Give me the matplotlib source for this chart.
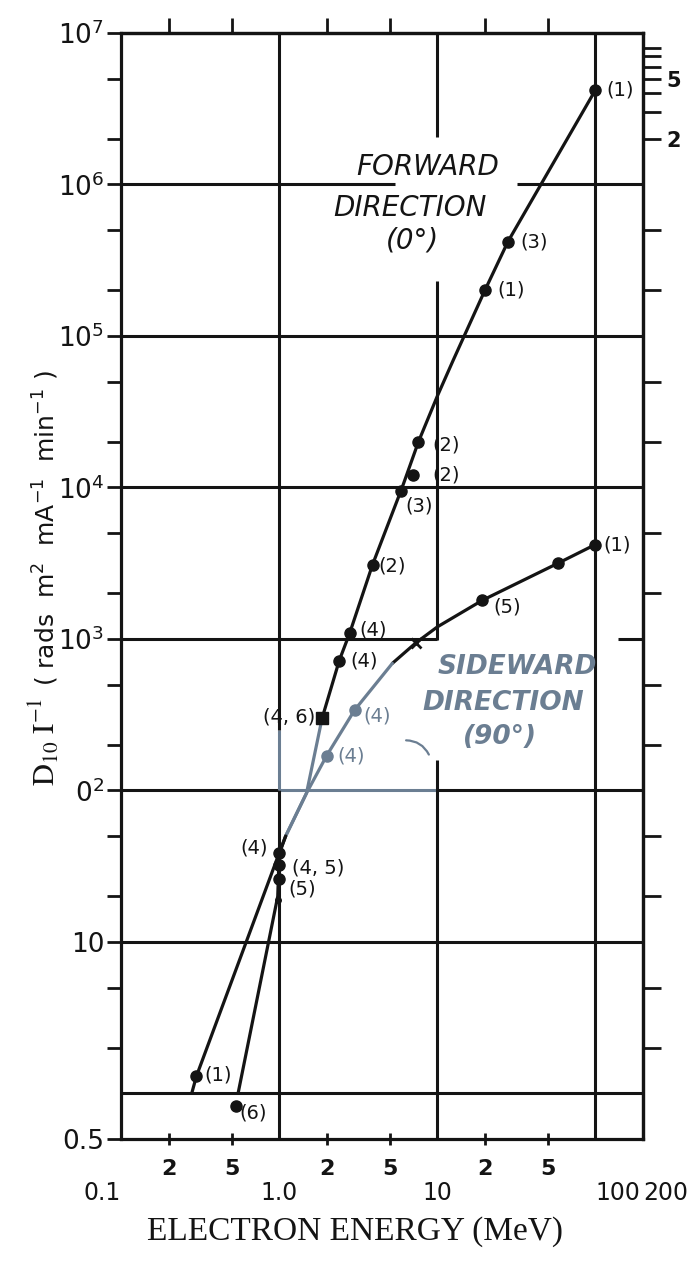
import matplotlib
matplotlib.use("Agg")
import matplotlib.pyplot as plt
from matplotlib.ticker import FixedLocator, FixedFormatter, NullFormatter

# ---------------- data ----------------
# Forward direction (0 deg): data points
fwd_E = [100, 28, 20, 7.6, 7.0, 5.9, 3.9, 2.8, 2.4, 1.87, 1.0, 1.0, 0.98, 0.53]
fwd_D = [4.2e6, 4.2e5, 2.0e5, 2.0e4, 1.2e4, 9.5e3, 3.1e3, 1.1e3, 720, 300, 32, 26, 19, 0.83]
fwd_lab = ['(1)', '(3)', '(1)', '(2)', '(2)', '(3)', '(2)', '(4)', '(4)', '(4, 6)', '(4, 5)', '(5)', '', '(6)']

# Forward direction: drawn curve
fwd_curve_E = [100, 28, 20, 12.6, 10, 7.6, 6.0, 3.9, 2.8, 2.4, 1.87, 1.49, 1.1, 1.0, 0.98, 0.55]
fwd_curve_D = [4.2e6, 4.2e5, 2.0e5, 6.9e4, 4.0e4, 2.0e4, 1.0e4, 3.1e3, 1.1e3, 720, 300, 96, 50, 38, 20, 1.0]

# Sideward direction (90 deg): data points
side_E = [100, 58, 19.3, 7.3, 3.0, 2.0, 1.0, 0.30]
side_D = [4.2e3, 3.16e3, 1.8e3, 940, 339, 170, 38.5, 1.3]
side_lab = ['(1)', '', '(5)', '', '(4)', '(4)', '(4)', '(1)']

# Sideward direction: drawn curve
side_curve_E = [100, 58, 19.3, 10, 7.3, 5.2, 3.0, 2.0, 1.49, 1.1, 1.0, 0.30, 0.28]
side_curve_D = [4.2e3, 3.16e3, 1.8e3, 1.2e3, 940, 690, 339, 170, 96, 50, 38.5, 1.3, 1.0]

# axis ticks / labels
y_major = [0.5, 10, 1e2, 1e3, 1e4, 1e5, 1e6, 1e7]
y_major_lab = ['0.5', '10', r'0$^{2}$', r'10$^{3}$', r'10$^{4}$', r'10$^{5}$', r'10$^{6}$', r'10$^{7}$']
y_minor = [2, 5, 20, 50, 200, 500, 2e3, 5e3, 2e4, 5e4, 2e5, 5e5, 2e6, 5e6]
x_major = [0.1, 1.0, 10, 100, 200]
x_major_lab = ['0.1', '1.0', '10', '100', '200']
x_minor = [0.2, 0.5, 2, 5, 20, 50]
x_minor_lab = ['2', '5', '2', '5', '2', '5']
right_minor = [2, 5, 20, 50, 200, 500, 2e3, 5e3, 2e4, 5e4, 2e5, 5e5, 2e6, 3e6, 4e6, 6e6, 7e6, 8e6]
right_major = [2e6, 5e6]
right_major_lab = ['2', '5']

# ---------------- style ----------------
INK = '#141414'
GREY = '#6b7e92'
LW = 2.3

fig = plt.figure(figsize=(7, 12.62), dpi=100)
ax = fig.add_axes([121 / 700, 1 - 1139 / 1262, (643 - 121) / 700, (1139 - 33) / 1262])
ax.set_xscale('log')
ax.set_yscale('log')
ax.set_xlim(0.1, 200)
ax.set_ylim(0.5, 1e7)

for s in ax.spines.values():
    s.set_linewidth(LW)
    s.set_color(INK)

# grid segments (value, start, end, colour)
h_grid = [(1, 0.1, 200, INK), (10, 0.1, 200, INK),
          (1e2, 0.1, 1.0, INK), (1e2, 1.0, 10, GREY), (1e2, 10, 200, INK),
          (1e3, 0.1, 10, INK), (1e3, 138, 200, INK),
          (1e4, 0.1, 200, INK), (1e5, 0.1, 200, INK),
          (1e6, 0.1, 5.4, INK), (1e6, 32, 200, INK)]
v_grid = [(1.0, 0.5, 100, INK), (1.0, 100, 250, GREY), (1.0, 250, 1e7, INK),
          (10, 0.5, 158, INK), (10, 980, 2.3e5, INK), (10, 2.05e6, 1e7, INK),
          (100, 0.5, 1e7, INK)]
for y, x0, x1, c in h_grid:
    ax.hlines(y, x0, x1, colors=c, lw=2.2, zorder=1)
for x, y0, y1, c in v_grid:
    ax.vlines(x, y0, y1, colors=c, lw=2.2, zorder=1)

# curves with colour segments (index ranges)
fwd_segments = [(0, 10, INK), (10, 12, GREY), (12, len(fwd_curve_E) - 1, INK)]
side_segments = [(0, 5, INK), (5, 9, GREY), (9, len(side_curve_E) - 1, INK)]
for i0, i1, c in fwd_segments:
    ax.plot(fwd_curve_E[i0:i1 + 1], fwd_curve_D[i0:i1 + 1], color=c, lw=LW, zorder=3,
            solid_capstyle='round', solid_joinstyle='round')
for i0, i1, c in side_segments:
    ax.plot(side_curve_E[i0:i1 + 1], side_curve_D[i0:i1 + 1], color=c, lw=LW, zorder=3,
            solid_capstyle='round', solid_joinstyle='round')

# forward points and labels
fwd_off = [(8, 0), (9, 0), (9, 0), (10, -2), (14, 0), (3, -11), (4, -1), (7, 2), (8, 0),
           (-5, 1), (9, -2), (7, -7), (0, 0), (3, -5)]
for i, (e, d, lab) in enumerate(zip(fwd_E, fwd_D, fwd_lab)):
    mk = 's' if lab == '(4, 6)' else 'o'
    ms = 4 if lab == '' else 8
    ax.plot([e], [d], marker=mk, ms=ms, color=INK, ls='none', zorder=4)
    if lab:
        dx, dy = fwd_off[i]
        ax.annotate(lab, (e, d), xytext=(dx, dy), textcoords='offset points',
                    ha='right' if dx < 0 else 'left', va='center', fontsize=14,
                    color=INK, family='DejaVu Sans')

# sideward points and labels
side_off = [(6, 0), (0, 0), (8, -5), (0, 0), (6, -4), (8, 0), (-8, 4), (6, 1)]
side_col = [INK, INK, INK, INK, GREY, GREY, INK, INK]
for i, (e, d, lab) in enumerate(zip(side_E, side_D, side_lab)):
    c = side_col[i]
    if i == 3:
        ax.plot([e], [d], marker='x', ms=7, mew=2, color=c, ls='none', zorder=4)
    else:
        ax.plot([e], [d], marker='o', ms=8, color=c, ls='none', zorder=4)
    if lab:
        dx, dy = side_off[i]
        ax.annotate(lab, (e, d), xytext=(dx, dy), textcoords='offset points',
                    ha='right' if dx < 0 else 'left', va='center', fontsize=14,
                    color=c, family='DejaVu Sans')

# leader arc from the sideward caption to its curve
ax.annotate('', xy=(9.0, 166), xytext=(6.1, 214),
            arrowprops=dict(arrowstyle='-', color=GREY, lw=1.6,
                            connectionstyle='arc3,rad=-0.35'))

# captions
for txt, px, py in [('FORWARD', 428, 167), ('DIRECTION', 410, 208), ('(0°)', 412, 240)]:
    fig.text(px / 700, 1 - py / 1262, txt, ha='center', va='center', fontsize=20,
             style='italic', color=INK, family='DejaVu Sans')
for txt, px, py in [('SIDEWARD', 517, 667), ('DIRECTION', 503, 703), ('(90°)', 500, 737)]:
    fig.text(px / 700, 1 - py / 1262, txt, ha='center', va='center', fontsize=19,
             style='italic', weight='bold', color=GREY, family='DejaVu Sans')

# ---------------- ticks ----------------
ax.yaxis.set_major_locator(FixedLocator(y_major))
ax.yaxis.set_major_formatter(FixedFormatter(y_major_lab))
ax.yaxis.set_minor_locator(FixedLocator(y_minor))
ax.yaxis.set_minor_formatter(NullFormatter())
ax.tick_params(axis='y', which='both', direction='out', length=10, width=2,
               left=True, right=False, labelsize=19, pad=2, colors=INK)

ax.xaxis.set_major_locator(FixedLocator(x_major))
ax.xaxis.set_major_formatter(FixedFormatter(x_major_lab))
ax.xaxis.set_minor_locator(FixedLocator(x_minor))
ax.xaxis.set_minor_formatter(FixedFormatter(x_minor_lab))
ax.tick_params(axis='x', which='major', direction='in', length=0, labelsize=17, pad=30,
               top=False, colors=INK)
ax.tick_params(axis='x', which='minor', direction='inout', length=9, width=2,
               labelsize=16, pad=10, top=False, colors=INK)
for t in ax.get_xticklabels(which='minor'):
    t.set_fontweight('bold')
xl = ax.get_xticklabels()
xl[0].set_ha('right')
xl[3].set_ha('left')
xl[4].set_ha('left')

# right-hand scale ticks
sec = ax.secondary_yaxis('right')
sec.set_yticks(right_major, labels=right_major_lab)
sec.yaxis.set_minor_locator(FixedLocator(right_minor))
sec.yaxis.set_minor_formatter(NullFormatter())
sec.tick_params(which='both', direction='out', length=13, width=2, labelsize=15, pad=4,
                colors=INK)
for t in sec.get_yticklabels():
    t.set_fontweight('bold')
sec.spines['right'].set_linewidth(LW)

# top ticks
sect = ax.secondary_xaxis('top')
sect.xaxis.set_major_locator(FixedLocator([]))
sect.xaxis.set_minor_locator(FixedLocator(x_minor))
sect.xaxis.set_minor_formatter(NullFormatter())
sect.tick_params(which='both', direction='out', length=11, width=2, colors=INK)
sect.spines['top'].set_linewidth(LW)

# axis titles
fig.text(355 / 700, 1 - 1232 / 1262, 'ELECTRON ENERGY (MeV)', ha='center', va='center',
         fontsize=24, family='Liberation Serif', color=INK)
fig.text(44 / 700, 1 - 742 / 1262, r'$\mathrm{D_{10}\ I^{-1}}$', rotation=90,
         ha='center', va='center', fontsize=22, math_fontfamily='stix', color=INK)
fig.text(46 / 700, 1 - 528 / 1262, r'( rads  m$^{2}$  mA$^{-1}$  min$^{-1}$ )', rotation=90,
         ha='center', va='center', fontsize=18, family='DejaVu Sans', color=INK)

fig.savefig('out.png', dpi=100, facecolor='white')
